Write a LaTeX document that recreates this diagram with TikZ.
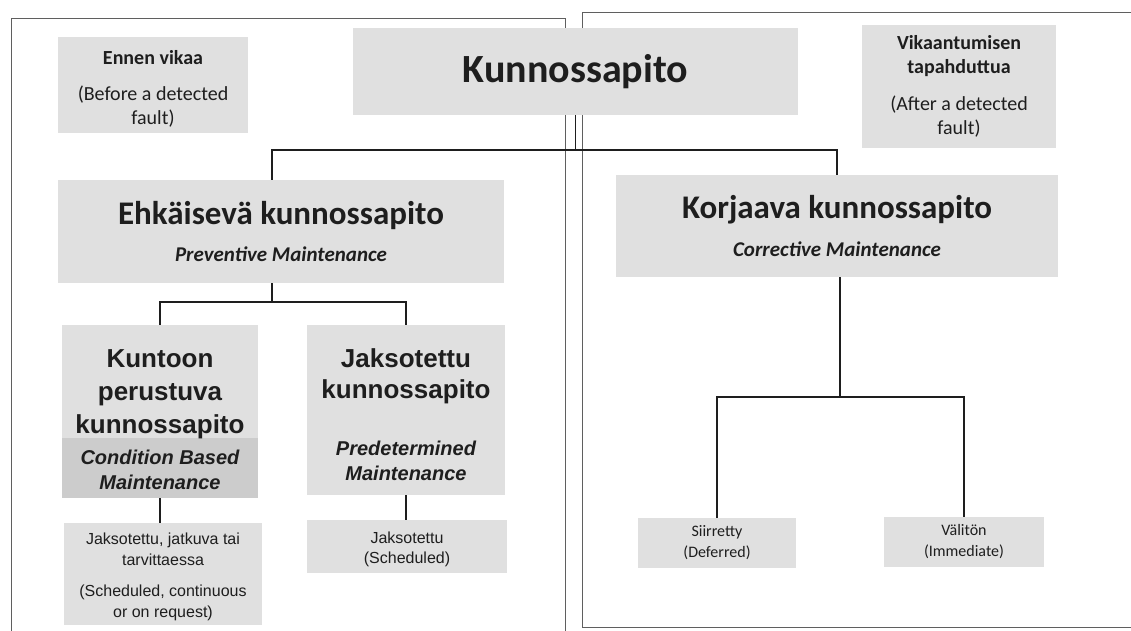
\documentclass[tikz,border=0pt]{standalone}
\usepackage{fontspec}
\setmainfont{Carlito}
\newfontfamily\arialf{Liberation Sans}
\usetikzlibrary{backgrounds}
\definecolor{boxgray}{RGB}{224,224,224}
\definecolor{boxdark}{RGB}{204,204,204}
\definecolor{framegray}{RGB}{95,95,95}
\definecolor{ink}{RGB}{30,30,30}
\newcommand\myTitle[1]{{\fontsize{33}{40}\selectfont\bfseries #1}}
\newcommand\mySub[1]{{\fontsize{21}{25}\selectfont\bfseries\itshape #1}}
\newcommand\myArIt[1]{{\fontsize{20}{25}\selectfont\itshape #1}}
\newcommand\myLift[1]{\rule{0pt}{#1pt}}
\begin{document}
\begin{tikzpicture}[x=1pt,y=-1pt,
  box/.style={fill=boxgray, inner sep=0pt, align=center, text=ink},
  conn/.style={draw=ink, line width=1.2pt},
  frameline/.style={draw=framegray, line width=0.9pt}]
\useasboundingbox (0,0) rectangle (1131,630);
\begin{scope}[on background layer]
  \fill[white] (0,0) rectangle (1131,630);
\end{scope}
% frames
\draw[frameline] (11,640) -- (11,18) -- (565,18) -- (565,640);
\draw[frameline] (1140,12) -- (582,12) -- (582,627) -- (1140,627);
% top level
\node[box, minimum width=190pt, minimum height=96pt, font=\fontsize{20}{24}\selectfont] (before) at (153,85)
  {\myLift{22}\textbf{Ennen vikaa}\\[12pt](Before a detected\\fault)};
\node[box, minimum width=445pt, minimum height=87pt, font=\fontsize{40}{48}\selectfont\bfseries] (kp) at (575.5,71.5) {Kunnossapito};
\node[box, minimum width=194pt, minimum height=123pt, font=\fontsize{20}{24}\selectfont] (after) at (959,86.5)
  {\textbf{Vikaantumisen}\\\textbf{tapahduttua}\\[13pt](After a detected\\fault)};
% second level
\node[box, minimum width=446pt, minimum height=103pt] (ehk) at (281,231.5)
  {\myTitle{Ehkäisevä kunnossapito}\\[16pt]\mySub{Preventive Maintenance}};
\node[box, minimum width=442pt, minimum height=102pt] (kor) at (837,226)
  {\myTitle{Korjaava kunnossapito}\\[16pt]\mySub{Corrective Maintenance}};
% third level
\node[box, fill=none, minimum width=196pt, minimum height=173pt, font=\arialf\fontsize{26}{33}\selectfont\bfseries] (kbm) at (160,411.5)
  {\myLift{35}Kuntoon\\perustuva\\kunnossapito\\[-2pt]\myArIt{Condition Based}\\[-8pt]\myArIt{Maintenance}};
\begin{scope}[on background layer]
  \fill[boxgray] (kbm.north west) rectangle (kbm.east |- 0,438);
  \fill[boxdark] (kbm.west |- 0,438) rectangle (kbm.south east);
\end{scope}
\node[box, minimum width=198pt, minimum height=170pt, font=\arialf\fontsize{26}{31}\selectfont\bfseries] (jak) at (406,410)
  {\myLift{28}Jaksotettu\\kunnossapito\\[26pt]\myArIt{Predetermined}\\[-6pt]\myArIt{Maintenance}};
\node[box, minimum width=198pt, minimum height=102pt, font=\arialf\fontsize{16}{21}\selectfont] (kbs) at (163,574)
  {\myLift{17.5}Jaksotettu, jatkuva tai\\tarvittaessa\\[10pt](Scheduled, continuous\\or on request)};
\node[box, minimum width=200pt, minimum height=53pt, font=\arialf\fontsize{16}{20}\selectfont] (jks) at (407,546.5)
  {\myLift{17.5}Jaksotettu\\(Scheduled)};
\node[box, minimum width=158pt, minimum height=50pt, font=\fontsize{16}{21}\selectfont] (sii) at (717,543)
  {Siirretty\\(Deferred)};
\node[box, minimum width=160pt, minimum height=50pt, font=\fontsize{16}{21}\selectfont] (val) at (964,542)
  {Välitön\\(Immediate)};
% connectors
\coordinate (j1) at (575.5,150);
\coordinate (j2) at (272,302);
\coordinate (j3) at (840,397);
\draw[conn] (kp.south) -- (j1);
\draw[conn] ([xshift=-9pt]ehk.north) |- (j1) -| (kor.north);
\draw[conn] ([xshift=-9pt]ehk.south) -- (j2);
\draw[conn] (kbm.north) |- (j2) -| (jak.north);
\draw[conn] (kbm.south) -- (kbm.south |- kbs.north);
\draw[conn] (jak.south) -- (jak.south |- jks.north);
\draw[conn] ([xshift=3pt]kor.south) -- (j3);
\draw[conn] (sii.north) |- (j3) -| (val.north);
\end{tikzpicture}
\end{document}
